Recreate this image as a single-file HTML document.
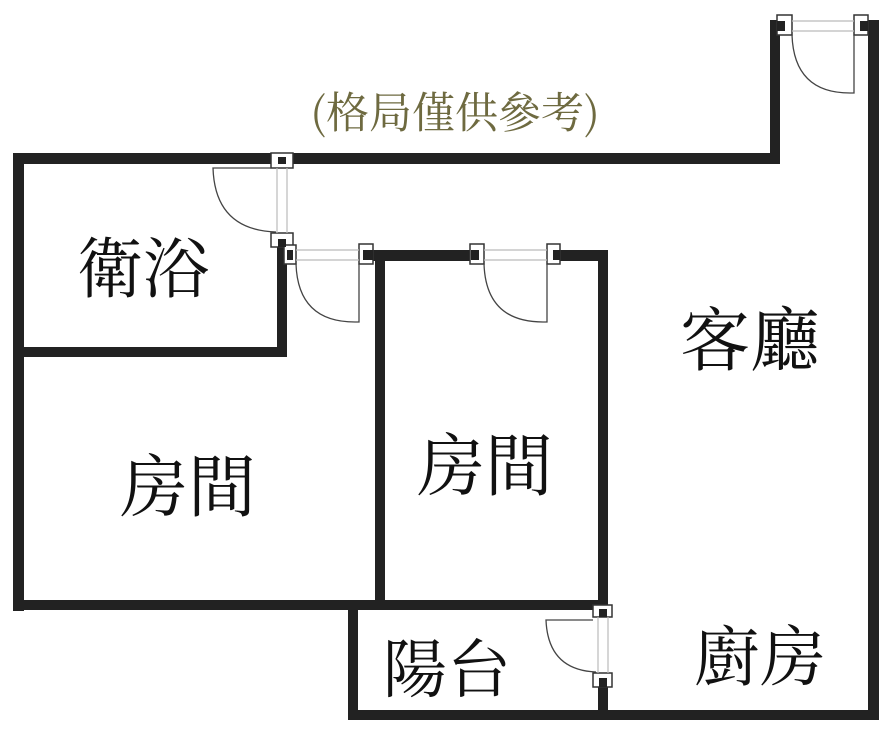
<!DOCTYPE html>
<html><head><meta charset="utf-8"><style>
html,body{margin:0;padding:0;background:#fff;}
svg{display:block;}
text{font-family:"Noto Serif CJK SC",serif;}
</style></head><body>
<svg width="889" height="736" viewBox="0 0 889 736" xmlns="http://www.w3.org/2000/svg">
<g fill="#222">
<rect x="13" y="153" width="767" height="11"/>
<rect x="13" y="153" width="11" height="458"/>
<rect x="770" y="20" width="10" height="144"/>
<rect x="868" y="20" width="11" height="700"/>
<rect x="13" y="347" width="274" height="10"/>
<rect x="277" y="238" width="10" height="119"/>
<rect x="370" y="250" width="102" height="11"/>
<rect x="558" y="250" width="50" height="11"/>
<rect x="375" y="250" width="10" height="360"/>
<rect x="598" y="250" width="10" height="358"/>
<rect x="13" y="600" width="595" height="10"/>
<rect x="348" y="600" width="10" height="120"/>
<rect x="348" y="710" width="531" height="10"/>
<rect x="598" y="685" width="10" height="30"/>
</g>
<g fill="#fff" stroke="#333" stroke-width="1.5">
<rect x="271" y="153" width="22" height="15"/>
<rect x="271" y="233" width="22" height="14"/>
<rect x="284" y="245" width="12" height="19"/>
<rect x="359" y="244" width="14" height="20"/>
<rect x="470" y="244" width="14" height="20"/>
<rect x="547" y="244" width="13" height="20"/>
<rect x="777" y="15" width="15" height="20"/>
<rect x="854" y="15" width="14" height="20"/>
<rect x="593" y="605" width="19" height="12"/>
<rect x="593" y="673" width="19" height="14"/>
</g>
<g fill="#222">
<rect x="278" y="157" width="8" height="7"/>
<rect x="278" y="239" width="8" height="8"/>
<rect x="287" y="250" width="6" height="10"/>
<rect x="363" y="250" width="10" height="10"/>
<rect x="471" y="250" width="8" height="10"/>
<rect x="553" y="250" width="7" height="10"/>
<rect x="777" y="21" width="8" height="10"/>
<rect x="860" y="21" width="8" height="10"/>
<rect x="599" y="609" width="8" height="8"/>
<rect x="599" y="678" width="8" height="9"/>
</g>
<g fill="none" stroke="#bbb" stroke-width="1.2">
<line x1="277" y1="168" x2="277" y2="233"/><line x1="287" y1="168" x2="287" y2="233"/>
<line x1="296" y1="250" x2="359" y2="250"/><line x1="296" y1="260" x2="359" y2="260"/>
<line x1="484" y1="250" x2="547" y2="250"/><line x1="484" y1="260" x2="547" y2="260"/>
<line x1="792" y1="21" x2="854" y2="21"/><line x1="792" y1="31" x2="854" y2="31"/>
<line x1="598" y1="617" x2="598" y2="673"/><line x1="608" y1="617" x2="608" y2="673"/>
</g>
<g fill="none" stroke="#444" stroke-width="1.3">
<path d="M271 168 H213 Q215 230 276 232"/>
<path d="M359 264 V322 H355 Q298 322 296 264"/>
<path d="M547 264 V322 H543 Q486 322 484 264"/>
<path d="M854 35 V93 H850 Q794 93 792 35"/>
<path d="M593 620 H546 Q548 670 596 672"/>
</g>
<text x="455" y="128" font-size="43" fill="#6e6a40" text-anchor="middle">(格局僅供參考)</text>
<g fill="#111">
<text x="143" y="292" font-size="66" text-anchor="middle">衛浴</text>
<text x="750" y="365" font-size="70" text-anchor="middle">客廳</text>
<text x="188" y="511" font-size="68" text-anchor="middle">房間</text>
<text x="485" y="490" font-size="68" text-anchor="middle">房間</text>
<text x="447" y="692" font-size="64" text-anchor="middle">陽台</text>
<text x="760" y="680" font-size="66" text-anchor="middle">廚房</text>
</g>
</svg>
</body></html>
